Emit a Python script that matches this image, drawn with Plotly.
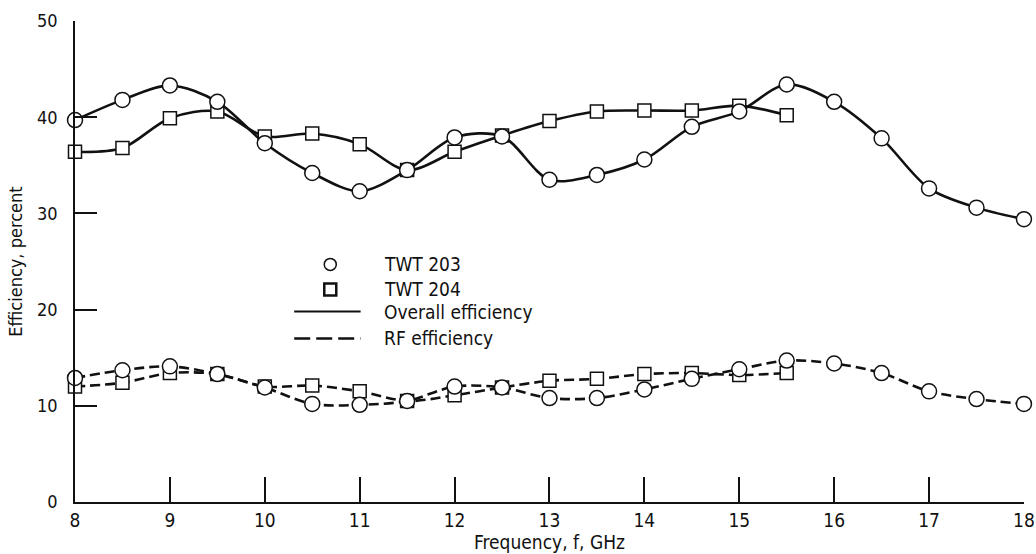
import plotly.graph_objects as go

freq_203 = [8, 8.5, 9, 9.5, 10, 10.5, 11, 11.5, 12, 12.5, 13, 13.5, 14, 14.5, 15, 15.5, 16, 16.5, 17, 17.5, 18]
freq_204 = [8, 8.5, 9, 9.5, 10, 10.5, 11, 11.5, 12, 12.5, 13, 13.5, 14, 14.5, 15, 15.5]

overall_203 = [39.7, 41.8, 43.3, 41.6, 37.3, 34.2, 32.3, 34.5, 37.9, 38.0, 33.5, 34.0, 35.6, 39.0, 40.6, 43.4, 41.6, 37.8, 32.6, 30.6, 29.4]
overall_204 = [36.4, 36.8, 39.9, 40.6, 38.0, 38.3, 37.2, 34.5, 36.4, 38.1, 39.6, 40.6, 40.7, 40.7, 41.2, 40.2]
rf_203 = [12.9, 13.7, 14.1, 13.3, 11.9, 10.2, 10.1, 10.5, 12.0, 11.9, 10.8, 10.8, 11.7, 12.8, 13.8, 14.7, 14.4, 13.4, 11.5, 10.7, 10.2]
rf_204 = [12.0, 12.4, 13.4, 13.3, 12.0, 12.1, 11.5, 10.5, 11.1, 11.9, 12.6, 12.8, 13.3, 13.4, 13.2, 13.4]

x_ticks = [8, 9, 10, 11, 12, 13, 14, 15, 16, 17, 18]
y_ticks = [0, 10, 20, 30, 40, 50]

legend_labels = ["TWT 203", "TWT 204", "Overall efficiency", "RF efficiency"]

FONT = "DejaVu Sans Condensed, Liberation Sans Narrow, sans-serif"
BLACK = "#111111"

fig = go.Figure()

def add(x, y, symbol, dash, size):
    fig.add_trace(go.Scatter(
        x=x, y=y, mode="lines+markers", cliponaxis=False,
        line=dict(color=BLACK, width=2.6, shape="spline", smoothing=0.9, dash=dash),
        marker=dict(symbol=symbol, size=size, color="white",
                    line=dict(color=BLACK, width=1.5)),
        showlegend=False, hoverinfo="x+y"))

add(freq_204, rf_204, "square", "10px,5px", 13)
add(freq_203, rf_203, "circle", "10px,5px", 15)
add(freq_204, overall_204, "square", "solid", 13)
add(freq_203, overall_203, "circle", "solid", 15)

# Custom legend (drawn in data coordinates with pixel-sized symbols)
lx_sym = 10.69
lx_txt = 11.24
ly = [24.7, 22.1, 19.8, 17.0]
shapes = [
    dict(type="circle", xref="x", yref="y", xsizemode="pixel", ysizemode="pixel",
         xanchor=lx_sym, yanchor=ly[0], x0=-6, x1=6, y0=-6, y1=6,
         line=dict(color=BLACK, width=1.5), fillcolor="white"),
    dict(type="rect", xref="x", yref="y", xsizemode="pixel", ysizemode="pixel",
         xanchor=lx_sym, yanchor=ly[1], x0=-6, x1=6, y0=-6, y1=6,
         line=dict(color=BLACK, width=2.5), fillcolor="white"),
    dict(type="line", xref="x", yref="y", x0=10.31, x1=11.01, y0=ly[2], y1=ly[2],
         line=dict(color=BLACK, width=2.2)),
    dict(type="line", xref="x", yref="y", x0=10.31, x1=11.01, y0=ly[3], y1=ly[3],
         line=dict(color=BLACK, width=2.6, dash="16px,6px")),
]
annotations = [
    dict(x=lx_txt, y=yy, xref="x", yref="y", text=t, showarrow=False,
         xanchor="left", yanchor="middle", font=dict(family=FONT, size=19, color=BLACK))
    for t, yy in zip(legend_labels, ly)
]

fig.update_layout(
    width=1036, height=554,
    margin=dict(l=75, r=12, t=21, b=52, autoexpand=False),
    paper_bgcolor="white", plot_bgcolor="white",
    font=dict(family=FONT, size=18, color=BLACK),
    shapes=shapes, annotations=annotations,
    xaxis=dict(range=[8, 18.0005], tickvals=x_ticks, ticks="inside", ticklen=25,
               tickwidth=1.5, tickcolor=BLACK, showline=True, linecolor=BLACK,
               linewidth=1.8, showgrid=False, zeroline=False, automargin=False,
               ticklabeloverflow="allow",
               tickfont=dict(family=FONT, size=19),
               title=dict(text="Frequency, f, GHz", standoff=2,
                          font=dict(family=FONT, size=19))),
    yaxis=dict(range=[0, 50], tickvals=y_ticks, ticks="inside", ticklen=22,
               tickwidth=1.5, tickcolor=BLACK, showline=True, linecolor=BLACK,
               linewidth=1.8, showgrid=False, zeroline=False, automargin=False,
               ticklabelstandoff=12, ticklabeloverflow="allow",
               tickfont=dict(family=FONT, size=18),
               title=dict(text="Efficiency, percent", standoff=10,
                          font=dict(family=FONT, size=18))),
)

fig.write_html("out.html")
